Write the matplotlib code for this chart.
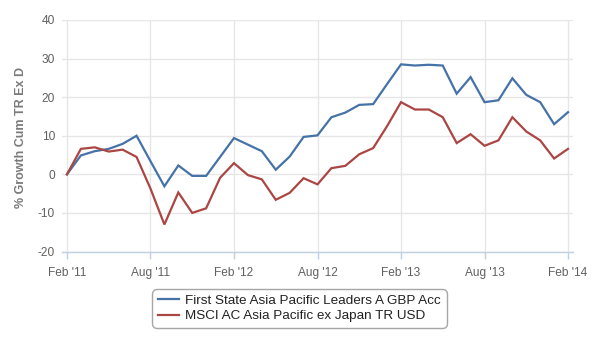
import numpy as np
import matplotlib
matplotlib.use("Agg")
import matplotlib.pyplot as plt

plt.rcParams['font.family'] = ['Liberation Sans', 'DejaVu Sans']
plt.rcParams['axes.unicode_minus'] = False

# Monthly cumulative growth (%), Feb 2011 .. Feb 2014
months = ["Feb '11", "Mar '11", "Apr '11", "May '11", "Jun '11", "Jul '11",
          "Aug '11", "Sep '11", "Oct '11", "Nov '11", "Dec '11", "Jan '12",
          "Feb '12", "Mar '12", "Apr '12", "May '12", "Jun '12", "Jul '12",
          "Aug '12", "Sep '12", "Oct '12", "Nov '12", "Dec '12", "Jan '13",
          "Feb '13", "Mar '13", "Apr '13", "May '13", "Jun '13", "Jul '13",
          "Aug '13", "Sep '13", "Oct '13", "Nov '13", "Dec '13", "Jan '14",
          "Feb '14"]

fund = [0.0, 4.9, 6.0, 6.6, 7.9, 10.0, 3.4, -3.1, 2.3, -0.4, -0.4, 4.5,
        9.4, 7.7, 6.0, 1.2, 4.6, 9.7, 10.1, 14.8, 16.0, 18.0, 18.2, 23.4,
        28.5, 28.2, 28.4, 28.2, 20.9, 25.2, 18.7, 19.2, 24.9, 20.6, 18.7,
        13.0, 16.1]

index = [0.0, 6.6, 7.0, 5.9, 6.4, 4.5, -3.7, -13.0, -4.7, -10.0, -8.8, -0.9,
         2.9, -0.2, -1.3, -6.6, -4.8, -1.0, -2.6, 1.6, 2.2, 5.2, 6.8, 12.5,
         18.7, 16.8, 16.8, 14.8, 8.1, 10.4, 7.4, 8.8, 14.8, 11.1, 8.8, 4.1,
         6.6]

series_names = ["First State Asia Pacific Leaders A GBP Acc",
                "MSCI AC Asia Pacific ex Japan TR USD"]
tick_labels = ["Feb '11", "Aug '11", "Feb '12", "Aug '12", "Feb '13",
               "Aug '13", "Feb '14"]
y_ticks = [-20, -10, 0, 10, 20, 30, 40]

W, H = 600, 350
fig = plt.figure(figsize=(W / 100, H / 100), dpi=100)
left, right, top, bottom = 62, 573, 20, 251.5
ax = fig.add_axes([left / W, 1 - bottom / H, (right - left) / W, (bottom - top) / H])

x = np.arange(len(months))
ax.plot(x, fund, color='#4572A7', lw=1.6, label=series_names[0],
        solid_joinstyle='miter', zorder=3)
ax.plot(x, index, color='#AA4643', lw=1.6, label=series_names[1],
        solid_joinstyle='miter', zorder=3)

ax.set_ylim(-20, 40)
pad = 5 / 14.0
ax.set_xlim(-pad, len(months) - 1 + pad)

tick_pos = [months.index(t) for t in tick_labels]
ax.set_xticks(tick_pos)
ax.set_xticklabels(tick_labels)
ax.set_yticks(y_ticks)

grid_c = '#E6E6E6'
ax.grid(True, color=grid_c, lw=1, zorder=0)
for s in ['top', 'right', 'left']:
    ax.spines[s].set_visible(False)
ax.spines['bottom'].set_color('#C0D0E0')
ax.spines['bottom'].set_linewidth(1)

ax.tick_params(axis='x', colors='#C0D0E0', length=5, width=1, pad=6,
               labelcolor='#606060', labelsize=8.6)
ax.tick_params(axis='y', length=0, pad=5, labelcolor='#606060', labelsize=8.6)

fig.text(21 / W, 1 - 137 / H, "% Growth Cum TR Ex D", rotation=90,
         ha='center', va='center', color='#7a7a7a', fontsize=9,
         fontweight='bold')

leg = fig.legend(loc='center', bbox_to_anchor=(299.5 / W, 1 - 308.5 / H),
                 ncol=1, fontsize=9.7, frameon=True, fancybox=True,
                 handlelength=1.6, handletextpad=0.45, borderpad=0.4,
                 labelspacing=0.2, borderaxespad=0)
leg.get_frame().set_edgecolor('#909090')
leg.get_frame().set_linewidth(1)
leg.get_frame().set_boxstyle('round,pad=0,rounding_size=0.35')
for t in leg.get_texts():
    t.set_color('#222222')

fig.savefig('out.png', dpi=100)
